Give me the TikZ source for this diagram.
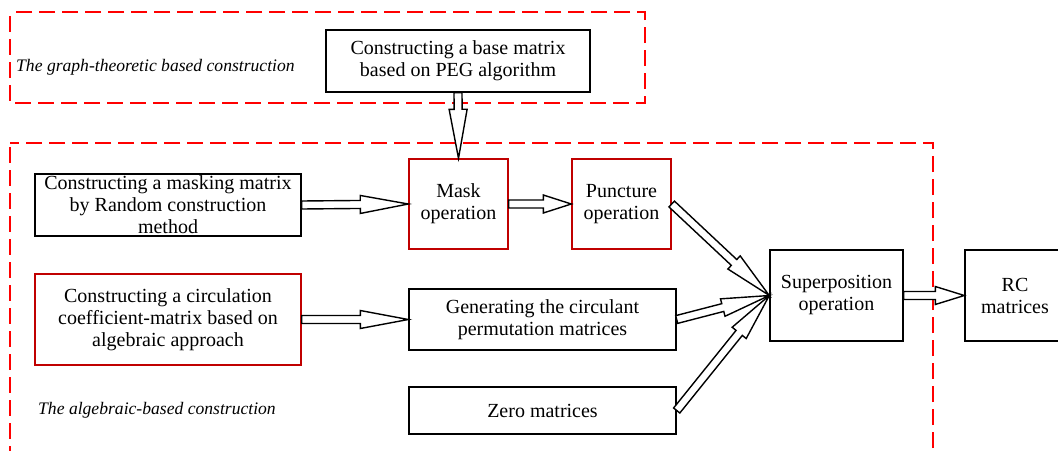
\documentclass[tikz,border=0pt]{standalone}
\usepackage{fontspec}
\setmainfont{Liberation Serif}
\usetikzlibrary{calc}
\definecolor{boxred}{RGB}{192,0,0}
\definecolor{dashred}{RGB}{255,0,0}

\tikzset{
  box/.style={draw=black, line width=1.4pt, fill=white, align=center,
              inner sep=0pt, font=\fontsize{20}{22}\selectfont},
  redbox/.style={box, draw=boxred},
  group/.style={draw=dashred, line width=2pt, dash pattern=on 16pt off 7pt,
                dash phase=-4pt},
  grouplabel/.style={font=\fontsize{17.6}{20}\selectfont\itshape,
                     anchor=west, inner sep=0pt},
  arrowline/.style={draw=black, line width=1.4pt, fill=white, line join=miter},
}

% Hollow block arrow: #1 head length, #2 start point, #3 tip point
\newcommand\hollowarrow[3][48]{%
  \draw[arrowline] let \p1=($(#3)-(#2)$),
      \n1={atan2(\y1,\x1)}, \n2={veclen(\x1,\y1)} in
    [shift={(#2)}, rotate=\n1]
    (0,-4) -- (\n2-#1,-4) -- (\n2-#1,-9) -- (\n2,0) --
    (\n2-#1,9) -- (\n2-#1,4) -- (0,4) -- cycle;
}

\begin{document}
\begin{tikzpicture}[x=1pt, y=-1pt]
\clip (0,0) rectangle (1058,450);
\fill[white] (0,0) rectangle (1058,450);

% group frames
\draw[group] (10,12) rectangle (645,103);
\draw[group] (10,143) rectangle (933,480);
\node[grouplabel] (lblgraph) at (16,67) {The graph-theoretic based construction};
\node[grouplabel] (lblalg) at (38,410) {The algebraic-based construction};

% process boxes
\node[box, minimum width=264pt, minimum height=62pt] (base) at (458,61)
  {Constructing a base matrix\\based on PEG algorithm};
\node[box, minimum width=266pt, minimum height=62pt] (masking) at (168,205)
  {Constructing a masking matrix\\by Random construction\\method};
\node[redbox, minimum width=99pt, minimum height=90pt] (mask) at (458.5,204)
  {Mask\\operation};
\node[redbox, minimum width=99pt, minimum height=90pt] (punct) at (621.5,204)
  {Puncture\\operation};
\node[redbox, minimum width=266pt, minimum height=91pt] (circ) at (168,319.5)
  {Constructing a circulation\\coefficient-matrix based on\\algebraic approach};
\node[box, minimum width=267pt, minimum height=61pt] (gen) at (542.5,319.5)
  {Generating the circulant\\permutation matrices};
\node[box, minimum width=267pt, minimum height=47pt] (zero) at (542.5,410.5)
  {Zero matrices};
\node[box, minimum width=133pt, minimum height=91pt] (super) at (836.5,295.5)
  {Superposition\\operation};
\node[box, minimum width=100pt, minimum height=91pt] (rc) at (1015,295.5)
  {RC\\matrices};

% connectors
\hollowarrow[49]{base.south}{mask.north}
\hollowarrow{masking.east}{mask.west}
\hollowarrow[28]{mask.east}{punct.west}
\hollowarrow{punct.east}{super.west}
\hollowarrow{circ.east}{gen.west}
\hollowarrow{gen.east}{super.west}
\hollowarrow{zero.east}{super.west}
\hollowarrow[29]{super.east}{rc.west}
\end{tikzpicture}
\end{document}
